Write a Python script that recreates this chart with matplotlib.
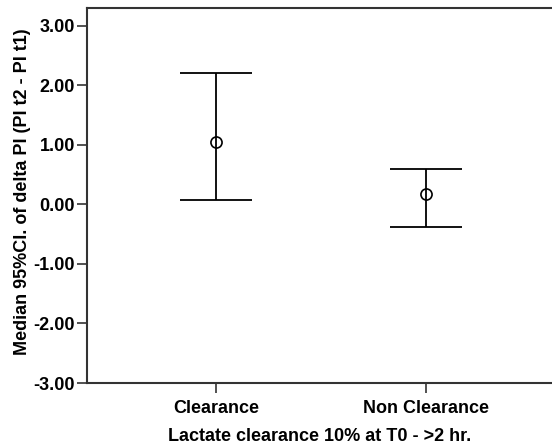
import numpy as np
import matplotlib.pyplot as plt

plt.rcParams['font.family'] = ['Liberation Sans', 'DejaVu Sans']

# --- data ---
categories = ['Clearance', 'Non Clearance']
medians = [1.05, 0.17]
ci_low = [0.08, -0.38]
ci_high = [2.20, 0.60]
yticks = [-3, -2, -1, 0, 1, 2, 3]

fig = plt.figure(figsize=(5.52, 4.48), dpi=100)
W, H = 552, 448
ax = fig.add_axes([87 / W, 1 - 383 / H, (552 - 87) / W, (383 - 8) / H])

x = np.arange(len(categories))
med = np.array(medians)
lo = np.array(ci_low)
hi = np.array(ci_high)
ax.errorbar(x, med, yerr=[med - lo, hi - med], fmt='none', ecolor='black',
            elinewidth=1.3, capsize=26, capthick=1.3)
ax.plot(x, med, 'o', mfc='none', mec='black', ms=8, mew=1.2)

ax.set_xlim(-0.614, 1.6)
ax.set_ylim(-3.0, 3.3)
ax.set_xticks(x)
ax.set_xticklabels(categories, fontsize=13, fontweight='bold')
ax.set_yticks(yticks)
ax.set_yticklabels([f'{v:.2f}' for v in yticks], fontsize=13, fontweight='bold')
ax.tick_params(axis='both', length=7.5, width=1.2, color='#333333')
ax.tick_params(axis='y', pad=1)
ax.tick_params(axis='x', pad=5)

ax.spines['right'].set_visible(False)
for s in ['left', 'bottom', 'top']:
    ax.spines[s].set_linewidth(1.5)
    ax.spines[s].set_color('#333333')

ax.set_ylabel('Median 95%CI. of delta PI (PI t2 - PI t1)', fontsize=13,
              fontweight='bold')
ax.yaxis.set_label_coords(-0.12, 0.51)
ax.set_xlabel('Lactate clearance 10% at T0 - >2 hr.', fontsize=13,
              fontweight='bold', labelpad=8)

fig.savefig('out.png', dpi=100)
